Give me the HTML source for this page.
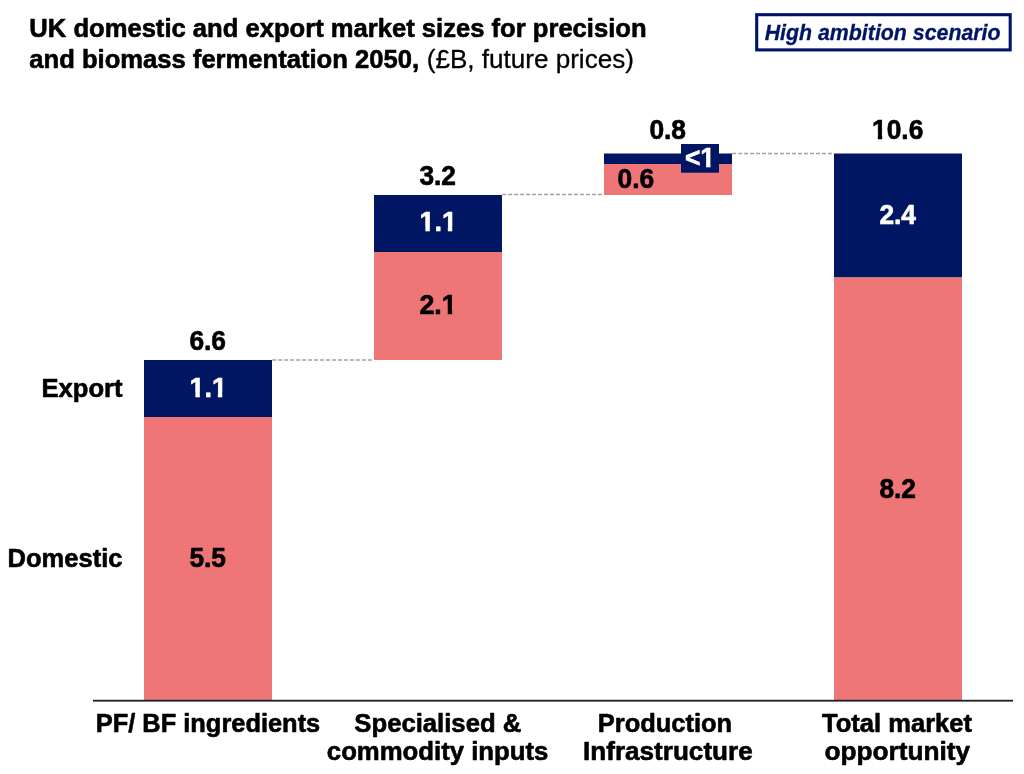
<!DOCTYPE html>
<html lang="en">
<head>
<meta charset="utf-8">
<title>UK domestic and export market sizes for precision and biomass fermentation 2050</title>
<style>
  html, body { margin: 0; padding: 0; background: #ffffff; }
  body { width: 1024px; height: 774px; overflow: hidden; }
  svg { display: block; }
  text { font-family: "Liberation Sans", sans-serif; font-size: 25.6px; font-weight: 700; paint-order: stroke fill; stroke-linejoin: round; }
  .reg { font-weight: 400; }
</style>
</head>
<body>
<svg width="1024" height="774" viewBox="0 0 1024 774">
  <rect x="0" y="0" width="1024" height="774" fill="#ffffff"/>

  <g fill="#000" stroke="#000" stroke-width="0.6">
    <text transform="translate(29.3,37.2) scale(1.0,1)">UK domestic and export market sizes for precision</text>
    <text transform="translate(29.3,68.3) scale(1.0,1)">and biomass fermentation 2050,</text>
    <text class="reg" stroke-width="0.3" transform="translate(426.7,68.3) scale(1.019,1)">(£B, future prices)</text>
  </g>
  <rect x="756.7" y="14.7" width="253.5" height="35.2" fill="#fff" stroke="#001468" stroke-width="3.1"/>
  <text transform="translate(764.7,40.4) scale(1,1)" style="font-style:italic;font-size:21.33px" fill="#001468" stroke="#001468" stroke-width="0.3">High ambition scenario</text>
  <line x1="272.2" y1="360" x2="374" y2="360" stroke="#a2a2a2" stroke-width="1.5" stroke-dasharray="3.98 2"/>
  <line x1="502.2" y1="194.6" x2="604" y2="194.6" stroke="#a2a2a2" stroke-width="1.5" stroke-dasharray="3.98 2"/>
  <line x1="732.2" y1="153.5" x2="834" y2="153.5" stroke="#a2a2a2" stroke-width="1.5" stroke-dasharray="3.98 2"/>
  <rect x="144" y="360" width="128" height="57" fill="#001663"/>
  <rect x="144" y="417" width="128" height="283" fill="#ef7676"/>
  <rect x="374" y="195" width="128" height="57" fill="#001663"/>
  <rect x="374" y="252" width="128" height="108" fill="#ef7676"/>
  <rect x="604" y="153.5" width="128" height="10.5" fill="#001663"/>
  <rect x="604" y="164" width="128" height="31" fill="#ef7676"/>
  <rect x="681" y="144" width="38" height="28.7" fill="#001663"/>
  <rect x="834" y="153.5" width="128" height="124" fill="#001663"/>
  <rect x="834" y="277.5" width="128" height="422.5" fill="#ef7676"/>
  <rect x="93" y="699.8" width="920" height="1.8" fill="#1e1e1e"/>
  <defs>
    <clipPath id="one1" clipPathUnits="userSpaceOnUse"><path clip-rule="evenodd" d="M-5 -30H40.59V10H-5ZM0.61 -3.91H5.63V2.50H0.61ZM9.84 -3.91H14.53V2.50H9.84ZM21.96 -3.91H26.98V2.50H21.96ZM31.19 -3.91H35.88V2.50H31.19Z"/></clipPath>
    <clipPath id="one2" clipPathUnits="userSpaceOnUse"><path clip-rule="evenodd" d="M-5 -30H40.59V10H-5ZM0.61 -3.91H5.63V2.50H0.61ZM9.84 -3.91H14.53V2.50H9.84ZM21.96 -3.91H26.98V2.50H21.96ZM31.19 -3.91H35.88V2.50H31.19Z"/></clipPath>
    <clipPath id="one3" clipPathUnits="userSpaceOnUse"><path clip-rule="evenodd" d="M-5 -30H40.59V10H-5ZM21.96 -3.91H26.98V2.50H21.96ZM31.19 -3.91H35.88V2.50H31.19Z"/></clipPath>
    <clipPath id="one4" clipPathUnits="userSpaceOnUse"><path clip-rule="evenodd" d="M-5 -30H34.19V10H-5ZM15.56 -3.91H20.57V2.50H15.56ZM24.79 -3.91H29.48V2.50H24.79Z"/></clipPath>
    <clipPath id="one5" clipPathUnits="userSpaceOnUse"><path clip-rule="evenodd" d="M-5 -30H54.83V10H-5ZM0.61 -3.91H5.63V2.50H0.61ZM9.84 -3.91H14.53V2.50H9.84Z"/></clipPath>
  </defs>
  <text transform="translate(207.7,350.3) scale(1.03,1.06)" text-anchor="middle" fill="#000" stroke="#000" stroke-width="0.6">6.6</text>
  <text transform="translate(189.5,396.6) scale(1.05,1.06)" text-anchor="start" fill="#fff" stroke="#fff" stroke-width="0.6" clip-path="url(#one1)">1.1</text>
  <text transform="translate(207.7,567.0) scale(1.03,1.06)" text-anchor="middle" fill="#000" stroke="#000" stroke-width="0.6">5.5</text>
  <text transform="translate(437.7,184.9) scale(1.03,1.06)" text-anchor="middle" fill="#000" stroke="#000" stroke-width="0.6">3.2</text>
  <text transform="translate(419.5,230.9) scale(1.05,1.06)" text-anchor="start" fill="#fff" stroke="#fff" stroke-width="0.6" clip-path="url(#one2)">1.1</text>
  <text transform="translate(419.4,313.8) scale(1.05,1.06)" text-anchor="start" fill="#000" stroke="#000" stroke-width="0.6" clip-path="url(#one3)">2.1</text>
  <text transform="translate(667.7,139.0) scale(1.03,1.06)" text-anchor="middle" fill="#000" stroke="#000" stroke-width="0.6">0.8</text>
  <text transform="translate(635.8,188.0) scale(1.03,1.06)" text-anchor="middle" fill="#000" stroke="#000" stroke-width="0.6">0.6</text>
  <text transform="translate(684.9,167.2) scale(1.03,1.06)" text-anchor="start" fill="#fff" stroke="#fff" stroke-width="0.6" clip-path="url(#one4)">&lt;1</text>
  <text transform="translate(872.04,139.0) scale(1.03,1.06)" text-anchor="start" fill="#000" stroke="#000" stroke-width="0.6" clip-path="url(#one5)">10.6</text>
  <text transform="translate(897.7,223.5) scale(1.03,1.06)" text-anchor="middle" fill="#fff" stroke="#fff" stroke-width="0.6">2.4</text>
  <text transform="translate(897.7,498.0) scale(1.03,1.06)" text-anchor="middle" fill="#000" stroke="#000" stroke-width="0.6">8.2</text>
  <text transform="translate(122.5,397.0) scale(1,1)" text-anchor="end" fill="#000" stroke="#000" stroke-width="0.6">Export</text>
  <text transform="translate(122.5,567.0) scale(0.998,1)" text-anchor="end" fill="#000" stroke="#000" stroke-width="0.6">Domestic</text>
  <text transform="translate(208,732.0) scale(0.993,1)" text-anchor="middle" fill="#000" stroke="#000" stroke-width="0.6">PF/ BF ingredients</text>
  <text transform="translate(437.8,732.0) scale(1.003,1)" text-anchor="middle" fill="#000" stroke="#000" stroke-width="0.6">Specialised &amp;</text>
  <text transform="translate(437.6,759.8) scale(1.005,1)" text-anchor="middle" fill="#000" stroke="#000" stroke-width="0.6">commodity inputs</text>
  <text transform="translate(664.9,731.9) scale(0.994,1)" text-anchor="middle" fill="#000" stroke="#000" stroke-width="0.6">Production</text>
  <text transform="translate(667.85,759.6) scale(1.02,1)" text-anchor="middle" fill="#000" stroke="#000" stroke-width="0.6">Infrastructure</text>
  <text transform="translate(897.0,732.0) scale(0.998,1)" text-anchor="middle" fill="#000" stroke="#000" stroke-width="0.6">Total market</text>
  <text transform="translate(897.3,759.5) scale(1.025,1)" text-anchor="middle" fill="#000" stroke="#000" stroke-width="0.6">opportunity</text>
</svg>
</body>
</html>
